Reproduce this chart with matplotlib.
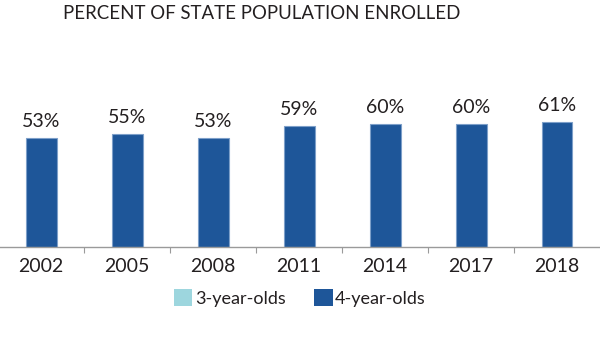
import matplotlib
matplotlib.use("Agg")
import matplotlib.pyplot as plt
from matplotlib.patches import Patch

plt.rcParams['font.family'] = ['Lato', 'DejaVu Sans']

years = ["2002", "2005", "2008", "2011", "2014", "2017", "2018"]
four_year_olds = [53, 55, 53, 59, 60, 60, 61]
series_names = ["3-year-olds", "4-year-olds"]
series_colors = ["#9dd6de", "#1e5699"]
title = "PERCENT OF STATE POPULATION ENROLLED"

text_color = "#231f20"
axis_color = "#9a9a9a"

fig = plt.figure(figsize=(6.0, 3.38), dpi=100)
ax = fig.add_axes([0.0, 0.270, 1.0, 0.424])

x = list(range(len(years)))
ax.bar(x, four_year_olds, width=0.36, color=series_colors[1],
       edgecolor="#7d9fc9", linewidth=0.8, zorder=2)

for xi, v in zip(x, four_year_olds):
    ax.annotate(f"{v}%", (xi, v), xytext=(0, 6), textcoords="offset points",
                ha="center", va="bottom", fontsize=14, color=text_color)

ax.set_xlim(-0.478, 6.5)
ax.set_ylim(0, 70)

for s in ["top", "left", "right"]:
    ax.spines[s].set_visible(False)
ax.spines["bottom"].set_color(axis_color)
ax.spines["bottom"].set_linewidth(1.0)
ax.set_yticks([])

# year labels centred under bars, tick marks between categories
ax.set_xticks(x)
ax.set_xticklabels(years, fontsize=14, color=text_color)
ax.tick_params(axis="x", which="major", length=0, pad=8)
ax.set_xticks([i + 0.5 for i in x[:-1]], minor=True)
ax.tick_params(axis="x", which="minor", length=4, width=0.8, color=axis_color,
               direction="out")

fig.text(0.436, 0.9615, title, ha="center", va="center", fontsize=13.4,
         color=text_color)

handles = [Patch(facecolor=c, edgecolor="none") for c in series_colors]
fig.legend(handles, series_names, loc="center", bbox_to_anchor=(0.5, 0.118),
           ncol=2, frameon=False, fontsize=13, handlelength=1.0,
           handleheight=1.0, handletextpad=0.15, columnspacing=1.6,
           labelcolor=text_color)

fig.savefig("out.png", dpi=100)
